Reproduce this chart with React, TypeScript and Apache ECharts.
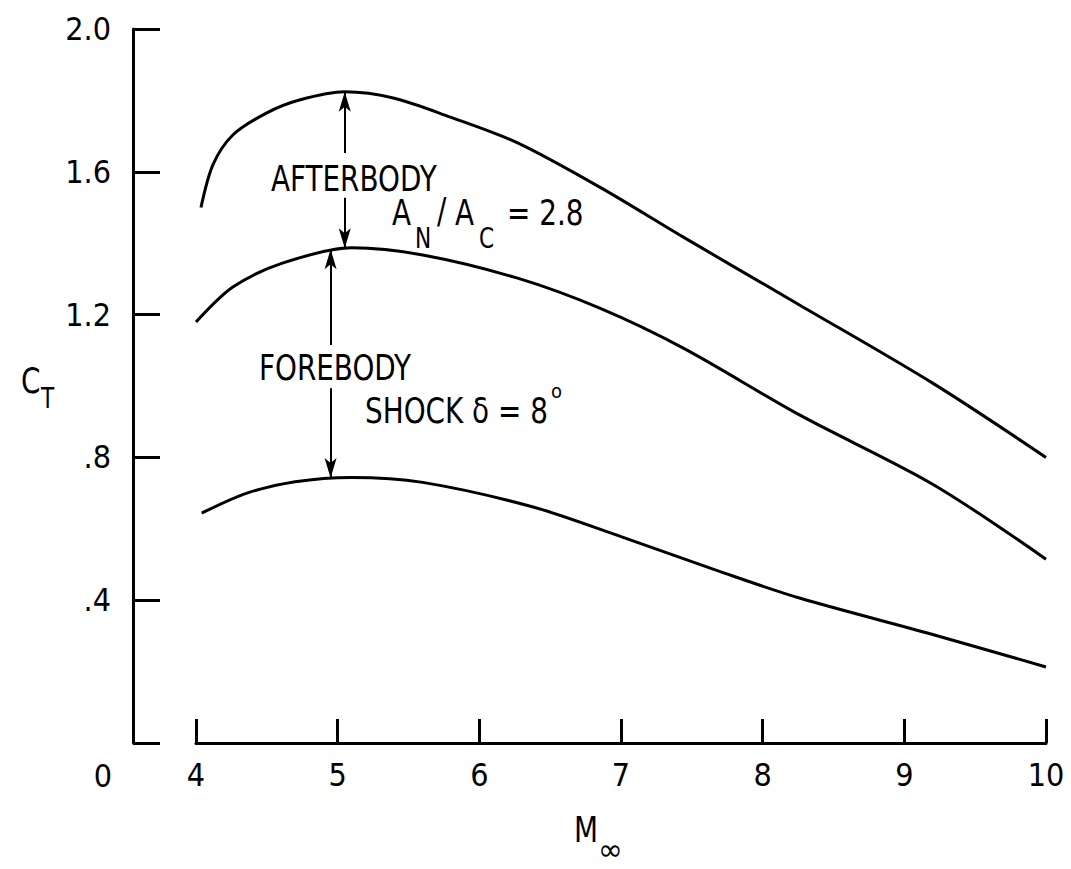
import React, { useEffect, useRef } from "react";
import * as echarts from "echarts";

const FONT = '"DejaVu Sans Condensed", "DejaVu Sans", sans-serif';

// Mach number / thrust coefficient curves
const upperX = [4.035, 4.12, 4.26, 4.5, 4.73, 5.05, 5.4, 5.79, 6.27, 6.85, 7.44, 8.26, 9.2, 10.0];
const upperY = [1.5, 1.62, 1.703, 1.765, 1.801, 1.824, 1.806, 1.754, 1.681, 1.557, 1.417, 1.227, 1.008, 0.8];

const middleX = [4.0, 4.26, 4.61, 5.1, 5.6, 6.27, 6.85, 7.44, 8.26, 9.2, 10.0];
const middleY = [1.179, 1.277, 1.344, 1.387, 1.367, 1.302, 1.218, 1.106, 0.919, 0.725, 0.515];

const lowerX = [4.04, 4.36, 4.7, 5.1, 5.6, 6.38, 7.0, 7.7, 8.26, 9.2, 10.0];
const lowerY = [0.644, 0.7, 0.732, 0.744, 0.73, 0.661, 0.578, 0.48, 0.406, 0.304, 0.213];

const xTicks = [4, 5, 6, 7, 8, 9, 10];
const yTickValues = [0, 0.4, 0.8, 1.2, 1.6, 2.0];
const yTickLabels = ["", ".4", ".8", "1.2", "1.6", "2.0"];

// arrows (data units): [from, to]
const afterbodyArrowX = 5.05;
const afterbodyArrow = [
  [1.653, 1.824],
  [1.527, 1.386],
];
const forebodyArrowX = 4.95;
const forebodyArrow = [
  [1.115, 1.383],
  [0.994, 0.742],
];

function zip(xs: number[], ys: number[]) {
  return xs.map((x, i) => [x, ys[i]]);
}

export default function App() {
  const ref = useRef<HTMLDivElement>(null);
  useEffect(() => {
    if (!ref.current) return;
    const chart = echarts.init(ref.current, undefined, { renderer: "svg" });
    const lineStyle = { color: "#000", width: 3 };
    const mk = (x: number, segs: number[][]) =>
      segs.map((s) => [{ coord: [x, s[0]] }, { coord: [x, s[1]] }]);
    const txt = (text: string, x: number, y: number, size = 36, align = "left", sx = 0.86) => ({
      type: "text",
      x,
      y,
      z: 10,
      scaleX: sx,
      style: {
        text,
        fill: "#000",
        fontSize: size,
        fontFamily: FONT,
        align,
        verticalAlign: "middle",
      },
    });
    chart.setOption({
      animation: false,
      backgroundColor: "#fff",
      grid: { left: 196, right: 25, top: 29, bottom: 126, containLabel: false },
      xAxis: {
        type: "value",
        min: 4,
        max: 10,
        interval: 1,
        axisLine: { show: true, lineStyle: { color: "#000", width: 3 } },
        axisTick: { show: true, inside: true, length: 24, lineStyle: { color: "#000", width: 3 } },
        axisLabel: {
          color: "#000",
          fontSize: 32,
          fontFamily: FONT,
          margin: 16,
          formatter: (v: number) => (xTicks.includes(v) ? String(v) : ""),
        },
        splitLine: { show: false },
      },
      yAxis: {
        type: "value",
        min: 0,
        max: 2.0,
        interval: 0.4,
        offset: 63,
        axisLine: { show: true, lineStyle: { color: "#000", width: 3 } },
        axisTick: { show: true, inside: true, length: 27, lineStyle: { color: "#000", width: 3 } },
        axisLabel: {
          color: "#000",
          fontSize: 32,
          fontFamily: FONT,
          margin: 22,
          formatter: (v: number) => {
            const i = yTickValues.findIndex((t) => Math.abs(t - v) < 1e-6);
            return i >= 0 ? yTickLabels[i] : "";
          },
        },
        splitLine: { show: false },
      },
      series: [
        {
          type: "line",
          data: zip(upperX, upperY),
          smooth: 0.3,
          showSymbol: false,
          lineStyle,
          silent: true,
          markLine: {
            silent: true,
            symbol: ["none", "arrow"],
            symbolSize: [9, 20],
            label: { show: false },
            lineStyle: { color: "#000", width: 2, type: "solid" },
            data: mk(afterbodyArrowX, afterbodyArrow),
          },
        },
        {
          type: "line",
          data: zip(middleX, middleY),
          smooth: 0.3,
          showSymbol: false,
          lineStyle,
          silent: true,
          markLine: {
            silent: true,
            symbol: ["none", "arrow"],
            symbolSize: [9, 20],
            label: { show: false },
            lineStyle: { color: "#000", width: 2, type: "solid" },
            data: mk(forebodyArrowX, forebodyArrow),
          },
        },
        {
          type: "line",
          data: zip(lowerX, lowerY),
          smooth: 0.3,
          showSymbol: false,
          lineStyle,
          silent: true,
        },
      ],
      graphic: [
        txt("AFTERBODY", 271, 179),
        txt("A", 392, 213),
        txt("N", 415, 238, 28),
        txt("/", 437, 211),
        txt("A", 455, 213),
        txt("C", 479, 238, 28),
        txt("= 2.8", 507, 213),
        txt("FOREBODY", 259, 368),
        txt("SHOCK δ = 8", 365, 411),
        txt("o", 551, 391, 20, "left", 1),
        txt("C", 21, 381),
        txt("T", 41, 398, 28),
        txt("0", 103, 776, 32, "center", 1),
        txt("M", 574, 830),
        txt("∞", 598, 850, 30, "left", 1.1),
      ],
    });
    return () => chart.dispose();
  }, []);
  return <div ref={ref} style={{ width: 1071, height: 869, margin: -8 }} />;
}
